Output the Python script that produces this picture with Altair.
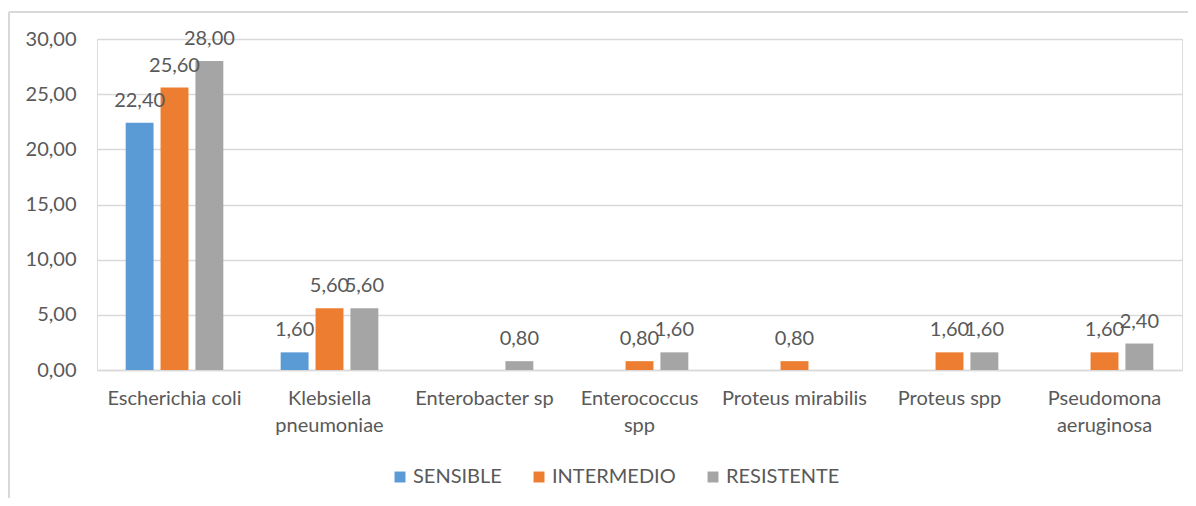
import altair as alt
import pandas as pd

categories = ["Escherichia coli", "Klebsiella pneumoniae", "Enterobacter sp",
              "Enterococcus spp", "Proteus mirabilis", "Proteus spp",
              "Pseudomona aeruginosa"]
series = ["SENSIBLE", "INTERMEDIO", "RESISTENTE"]
sensible = [22.40, 1.60, 0, 0, 0, 0, 0]
intermedio = [25.60, 5.60, 0, 0.80, 0.80, 1.60, 1.60]
resistente = [28.00, 5.60, 0.80, 1.60, 0, 1.60, 2.40]
colors = ["#5B9BD5", "#ED7D31", "#A5A5A5"]
y_ticks = [0, 5, 10, 15, 20, 25, 30]
wrapped = {
    "Klebsiella pneumoniae": ["Klebsiella", "pneumoniae"],
    "Enterococcus spp": ["Enterococcus", "spp"],
    "Pseudomona aeruginosa": ["Pseudomona", "aeruginosa"],
}

rows = []
for s, vals in zip(series, [sensible, intermedio, resistente]):
    for c, v in zip(categories, vals):
        rows.append({"cat": c, "serie": s, "value": v})
df = pd.DataFrame(rows)

label_expr = ""
for k, v in wrapped.items():
    label_expr += f"datum.label == '{k}' ? ['{v[0]}', '{v[1]}'] : "
label_expr += "datum.label"

FONT = "Lato"
TXT = "#595959"
GRID = "#D9D9D9"

x_enc = alt.X("cat:N", sort=categories, title=None,
              scale=alt.Scale(paddingInner=0.37, paddingOuter=0.185),
              axis=alt.Axis(labelAngle=0, labelExpr=label_expr, ticks=False,
                            domainColor=GRID, domainWidth=1.5,
                            labelFont=FONT, labelFontSize=20, labelColor=TXT,
                            labelPadding=18, labelLineHeight=27,
                            labelLimit=0))
xoff = alt.XOffset("serie:N", sort=series,
                   scale=alt.Scale(paddingInner=0.2, paddingOuter=0))
y_enc = alt.Y("value:Q", title=None,
              scale=alt.Scale(domain=[0, 30], nice=False),
              axis=alt.Axis(values=y_ticks, ticks=False, domain=False,
                            gridColor=GRID, gridWidth=1.5,
                            labelFont=FONT, labelFontSize=20, labelColor=TXT,
                            labelPadding=21,
                            labelExpr="replace(format(datum.value, '.2f'), '.', ',')"))
color = alt.Color("serie:N", sort=series,
                  scale=alt.Scale(domain=series, range=colors),
                  legend=alt.Legend(title=None, orient="none", direction="horizontal",
                                    legendX=293, legendY=428,
                                    symbolType="square", symbolSize=120,
                                    symbolStrokeWidth=0,
                                    labelFont=FONT, labelFontSize=20, labelColor=TXT,
                                    labelOffset=3, columnPadding=27))

base = alt.Chart(df)
bars = base.mark_bar().encode(x=x_enc, xOffset=xoff, y=y_enc, color=color)
labels = base.transform_filter("datum.value > 0").transform_calculate(
    lab="replace(format(datum.value, '.2f'), '.', ',')"
).mark_text(font=FONT, fontSize=20, color=TXT, baseline="middle", dy=-22).encode(
    x=alt.X("cat:N", sort=categories), xOffset=alt.XOffset("serie:N", sort=series),
    y="value:Q", text="lab:N")

frame_df = pd.DataFrame({"k": [0]})
left_border = alt.Chart(frame_df).mark_rule(color=GRID, strokeWidth=2).encode(
    x=alt.value(-88), y=alt.value(-27), y2=alt.value(470))
top_border = alt.Chart(frame_df).mark_rule(color=GRID, strokeWidth=2).encode(
    x=alt.value(-88), x2=alt.value(1110), y=alt.value(-27))

chart = alt.layer(left_border, top_border, bars, labels).properties(
    width=1085, height=331,
    padding={"left": 89, "top": 31, "right": 6, "bottom": 128},
    autosize=alt.AutoSizeParams(type="none"),
).configure_view(stroke=None).configure(background="white")

chart.save("out.html", embed_options={"renderer": "svg", "actions": False})
